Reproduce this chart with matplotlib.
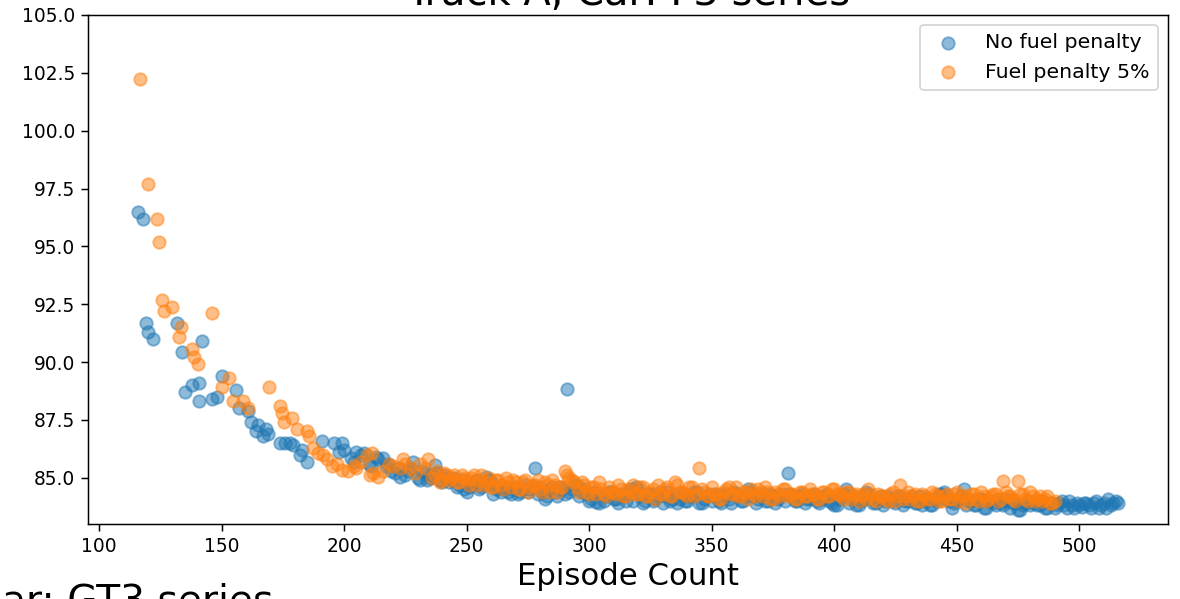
import matplotlib.pyplot as plt

# No fuel penalty
blue_x = [116, 118, 119, 120, 122, 132, 134, 135, 138, 141, 141, 142, 146, 148, 150, 156, 157, 161,
          162, 164, 165, 167, 168, 169, 174, 176, 178, 179, 182, 183, 185, 191, 196, 198, 199, 200,
          203, 205, 208, 210, 213, 216, 217, 219, 222, 223, 226, 228, 231, 233, 235, 237, 239, 241,
          243, 245, 247, 250, 252, 254, 256, 258, 260, 261, 263, 265, 268, 270, 272, 274, 276, 278,
          280, 282, 284, 286, 288, 290, 291, 293, 295, 297, 299, 301, 303, 305, 307, 309, 311, 313,
          315, 317, 319, 321, 323, 325, 327, 329, 331, 333, 335, 337, 339, 341, 343, 345, 347, 349,
          351, 353, 355, 357, 359, 361, 363, 365, 367, 369, 371, 373, 375, 377, 379, 381, 383, 385,
          387, 389, 391, 393, 395, 397, 399, 401, 403, 405, 407, 409, 411, 413, 415, 417, 419, 421,
          423, 425, 427, 429, 431, 433, 435, 437, 439, 441, 443, 445, 447, 449, 451, 453, 455, 457,
          459, 461, 463, 465, 467, 469, 471, 473, 475, 477, 479, 481, 483, 485, 487, 489, 491, 493,
          495, 497, 499, 501, 503, 505, 507, 509, 511, 512, 514, 516,
          204, 207, 211, 214, 218, 221, 225, 227, 230, 232, 234, 236, 238, 240, 242, 244, 246, 248,
          249, 251, 253, 255, 257, 259, 262, 264, 266, 267, 269, 271, 273, 275, 277, 279, 281, 283,
          285, 287, 289, 292, 294, 296, 298, 300, 302, 304, 306, 308, 310, 312, 314, 316, 318, 320,
          322, 324, 326, 328, 330, 332, 334, 336, 338, 340, 342, 344, 346, 348, 350, 352, 354, 356,
          358, 360, 362, 364, 366, 368, 370, 372, 374, 376, 378, 380, 382, 384, 386, 388, 390, 392,
          394, 396, 398, 400, 402, 404, 406, 408, 410, 412, 414, 416, 418, 420, 422, 424, 426, 428,
          430, 432, 434, 436, 438, 440, 442, 444, 446, 448, 450, 452, 454, 456, 458, 460, 462, 464,
          466, 468, 470, 472, 474, 476, 478, 480, 482, 484, 486, 488, 490, 492, 494, 496, 498, 500,
          502, 504, 506, 508, 510, 513, 515]
blue_y = [96.5, 96.2, 91.7, 91.3, 91.0, 91.7, 90.45, 88.7, 89.0, 89.1, 88.3, 90.9, 88.4, 88.5, 89.4, 88.8, 88.0, 87.9,
          87.4, 87.0, 87.3, 86.8, 87.1, 86.9, 86.5, 86.5, 86.5, 86.4, 86.0, 86.2, 85.7, 86.6, 86.5, 86.1, 86.5, 86.2,
          85.85, 86.1, 86.05, 85.6, 85.9, 85.85, 85.5, 85.3, 85.4, 85.05, 85.3, 85.7, 84.9, 85.2, 85.0, 85.55, 84.9, 85.1,
          84.8, 85.0, 84.7, 84.4, 84.7, 84.9, 84.6, 85.05, 84.8, 84.3, 84.6, 84.5, 84.3, 84.6, 84.4, 84.7, 84.5, 85.4,
          84.6, 84.1, 84.5, 84.4, 84.6, 84.3, 88.85, 84.5, 84.7, 84.4, 84.3, 84.1, 83.95, 84.3, 84.2, 84.4, 84.1, 84.3,
          84.0, 84.5, 84.6, 84.2, 84.0, 84.3, 84.1, 84.4, 84.2, 84.0, 84.3, 84.1, 84.0, 84.2, 84.4, 83.9, 84.1, 84.3,
          84.2, 84.0, 84.3, 84.1, 84.4, 84.2, 84.0, 84.5, 84.2, 84.1, 84.3, 84.0, 84.2, 84.1, 84.3, 85.2, 84.2, 84.0,
          84.3, 84.1, 84.2, 84.0, 84.1, 84.3, 83.9, 83.8, 84.2, 84.5, 84.1, 83.8, 84.0, 84.4, 84.1, 83.9, 84.2, 84.0,
          84.1, 83.9, 84.2, 84.0, 84.1, 83.9, 84.2, 84.0, 83.8, 84.1, 84.3, 84.4, 84.0, 83.9, 84.1, 84.5, 84.0, 83.8,
          84.1, 83.7, 84.0, 83.9, 84.1, 83.8, 84.0, 83.9, 83.6, 83.8, 84.0, 83.9, 83.8, 84.0, 83.7, 83.9, 83.8, 84.0,
          83.7, 83.8, 83.9, 83.75, 83.9, 83.7, 84.0, 83.8, 83.7, 84.1, 83.9, 83.9,
          85.7, 86.0, 85.5, 85.8, 85.6, 85.2, 85.1, 85.4, 85.0, 85.3, 84.9, 85.1, 85.2, 84.8, 85.0, 84.9, 84.6, 84.9,
          84.5, 84.6, 84.8, 84.5, 84.7, 84.9, 84.5, 84.4, 84.6, 84.4, 84.5, 84.3, 84.5, 84.4, 84.6, 84.3, 84.4, 84.2,
          84.6, 84.2, 84.5, 84.4, 84.7, 84.2, 84.5, 84.0, 84.4, 83.9, 84.0, 84.4, 84.1, 83.9, 84.2, 84.4, 84.0, 84.5,
          83.9, 84.3, 84.0, 84.2, 83.9, 84.4, 84.1, 83.9, 84.3, 84.0, 84.2, 84.4, 83.9, 84.2, 84.0, 84.3, 83.9, 84.2,
          83.9, 84.3, 84.0, 84.2, 84.4, 83.9, 84.2, 84.0, 84.3, 83.9, 84.2, 84.0, 84.3, 84.0, 84.2, 83.9, 84.1, 84.3,
          83.9, 84.2, 84.0, 83.8, 84.1, 84.3, 83.9, 84.2, 83.8, 84.1, 84.3, 83.9, 84.1, 83.8, 84.2, 84.0, 84.2, 83.8,
          84.0, 84.2, 83.9, 83.8, 84.1, 83.8, 84.0, 84.3, 84.1, 83.7, 84.0, 84.2, 83.8, 84.0, 83.8, 84.1, 83.7, 84.0,
          83.8, 83.9, 84.1, 83.7, 83.9, 83.6, 83.9, 83.8, 84.0, 83.8, 83.7, 83.9, 83.7, 83.9, 83.8, 84.0, 83.7, 83.8,
          83.9, 83.8, 83.9, 83.7, 83.9, 83.8, 84.0]

# Fuel penalty 5%
orange_x = [116.7, 120, 123.5, 124.6, 125.6, 126.4, 129.7, 132.5, 133.5, 137.8, 138.9, 140.5, 146, 150, 153, 154.8,
            158.9, 161, 169.5, 173.9, 174.6, 175.5, 178.6, 180.9, 184.8, 185.8, 187.5, 189.5, 191.6, 192.9, 195,
            197, 199, 201.7, 204, 209.3, 210.6, 211.3, 214, 218.4, 222.9, 224.2, 227, 231, 234.4,
            236, 238, 240, 242, 244, 246, 248, 250, 252, 254, 256, 258, 260, 262, 264, 266, 268, 270, 272, 274,
            276, 278, 280, 282, 284, 286, 288, 290, 291, 293, 295, 297, 299, 301, 303, 305, 307, 309, 311, 313,
            315, 317, 319, 321, 323, 325, 327, 329, 331, 333, 335, 337, 339, 341, 343, 345, 347, 349, 351, 353,
            355, 357, 359, 361, 363, 365, 367, 369, 371, 373, 375, 377, 379, 381, 383, 385, 387, 389, 391, 393,
            395, 397, 399, 401, 403, 405, 407, 409, 411, 413, 415, 417, 419, 421, 423, 425, 427, 429, 431, 433,
            435, 437, 439, 441, 443, 445, 447, 449, 451, 453, 455, 457, 459, 461, 463, 465, 467, 469, 471, 473,
            475, 477, 479, 481, 483, 485, 487, 489, 490,
            205, 207, 212, 216, 220, 225, 229, 233, 237, 239, 241, 243, 245, 247, 249, 251, 253, 255,
            257, 259, 261, 263, 265, 267, 269, 271, 273, 275, 277, 279, 281, 283, 285, 287, 289, 292,
            294, 296, 298, 300, 302, 304, 306, 308, 310, 312, 314, 316, 318, 320, 322, 324, 326, 328,
            330, 332, 334, 336, 338, 340, 342, 344, 346, 348, 350, 352, 354, 356, 358, 360, 362, 364,
            366, 368, 370, 372, 374, 376, 378, 380, 382, 384, 386, 388, 390, 392, 394, 396, 398, 400,
            402, 404, 406, 408, 410, 412, 414, 416, 418, 420, 422, 424, 426, 428, 430, 432, 434, 436,
            438, 440, 442, 444, 446, 448, 450, 452, 454, 456, 458, 460, 462, 464, 466, 468, 470, 472,
            474, 476, 478, 480, 482, 484, 486, 488]
orange_y = [102.25, 97.7, 96.2, 95.2, 92.7, 92.2, 92.4, 91.1, 91.5, 90.55, 90.2, 89.9, 92.1, 88.9, 89.3, 88.3,
            88.3, 88.0, 88.9, 88.1, 87.8, 87.4, 87.6, 87.1, 87.0, 86.8, 86.3, 86.05, 86.0, 85.8, 85.5,
            85.6, 85.35, 85.3, 85.5, 86.0, 85.13, 86.05, 85.05, 85.6, 85.4, 85.8, 85.4, 85.6, 85.8,
            85.0, 85.3, 84.9, 85.1, 85.0, 84.8, 85.1, 84.9, 85.0, 84.7, 85.1, 84.8, 84.6, 84.9, 84.7, 85.0, 84.6, 84.8, 84.5, 84.9,
            84.6, 84.7, 84.5, 84.8, 84.4, 84.7, 84.6, 85.3, 85.1, 84.9, 84.6, 84.8, 84.4, 84.6, 84.3, 84.5, 84.2, 84.4, 84.3, 84.5,
            84.2, 84.4, 84.3, 84.6, 84.2, 84.4, 84.1, 84.3, 84.5, 84.2, 84.8, 84.4, 84.3, 84.6, 84.2, 85.4, 84.4, 84.2, 84.3, 84.1,
            84.4, 84.6, 84.3, 84.2, 84.4, 84.1, 84.3, 84.5, 84.2, 84.4, 84.1, 84.3, 84.5, 84.2, 84.3, 84.1, 84.4, 84.2, 84.3, 84.1,
            84.4, 84.2, 84.5, 84.3, 84.2, 84.4, 84.1, 84.3, 84.2, 84.1, 84.3, 84.0, 84.2, 84.1, 84.3, 84.0, 84.7, 84.2, 84.1, 84.3,
            84.0, 84.2, 84.1, 84.3, 84.0, 84.2, 84.1, 84.3, 84.0, 84.2, 84.1, 84.3, 84.0, 84.2, 84.1, 84.3, 84.0, 84.85, 84.2, 84.1,
            84.85, 84.3, 84.0, 84.2, 84.1, 84.0, 84.2, 83.9, 84.0,
            85.4, 85.7, 85.2, 85.3, 85.5, 85.6, 85.2, 85.4, 85.1, 84.8, 85.2, 84.9, 85.1, 84.8, 85.0, 84.7, 85.1, 84.9,
            84.7, 85.0, 84.6, 84.9, 84.5, 84.8, 84.9, 84.5, 84.8, 84.4, 84.7, 84.9, 84.4, 84.7, 84.9, 84.4, 84.6, 85.0,
            84.8, 84.4, 84.7, 84.3, 84.6, 84.8, 84.3, 84.6, 84.4, 84.7, 84.2, 84.5, 84.7, 84.3, 84.6, 84.2, 84.5, 84.7,
            84.3, 84.6, 84.2, 84.7, 84.4, 84.2, 84.6, 84.3, 84.5, 84.2, 84.6, 84.3, 84.1, 84.5, 84.3, 84.6, 84.2, 84.4,
            84.5, 84.2, 84.4, 84.6, 84.1, 84.4, 84.2, 84.5, 84.3, 84.1, 84.4, 84.2, 84.5, 84.3, 84.1, 84.4, 84.2, 84.5,
            84.3, 84.1, 84.4, 84.2, 84.0, 84.3, 84.5, 84.1, 84.3, 84.2, 84.0, 84.4, 84.2, 84.1, 84.4, 84.2, 84.0, 84.3,
            84.1, 84.4, 84.2, 84.0, 84.3, 84.1, 84.4, 84.2, 83.9, 84.3, 84.1, 84.4, 84.0, 84.2, 84.3, 84.1, 84.4, 84.2,
            84.0, 84.3, 84.1, 84.4, 84.0, 84.2, 84.1, 83.9]

fig = plt.figure(figsize=(1180 / 134, 599 / 134), dpi=134)
ax = fig.add_axes([88 / 1180, 75 / 599, 1080 / 1180, 509 / 599])

ax.scatter(blue_x, blue_y, s=45, alpha=0.5, label='No fuel penalty')
ax.scatter(orange_x, orange_y, s=45, alpha=0.5, label='Fuel penalty 5%')

ax.set_ylim(83.0, 105.0)
ax.set_xlim(95.5, 536.3)
ax.set_title('Track A, Car: F3 series', fontsize=21.5, pad=5.5)
ax.set_xlabel('Episode Count', fontsize=16.5, labelpad=3)
ax.legend(loc='upper right', fontsize=11)

# title of the next chart, cut by the screenshot
fig.text(2 / 1180, -0.022, 'ar: GT3 series', fontsize=21, va='baseline', ha='left')

fig.savefig('out.png', dpi=134)
